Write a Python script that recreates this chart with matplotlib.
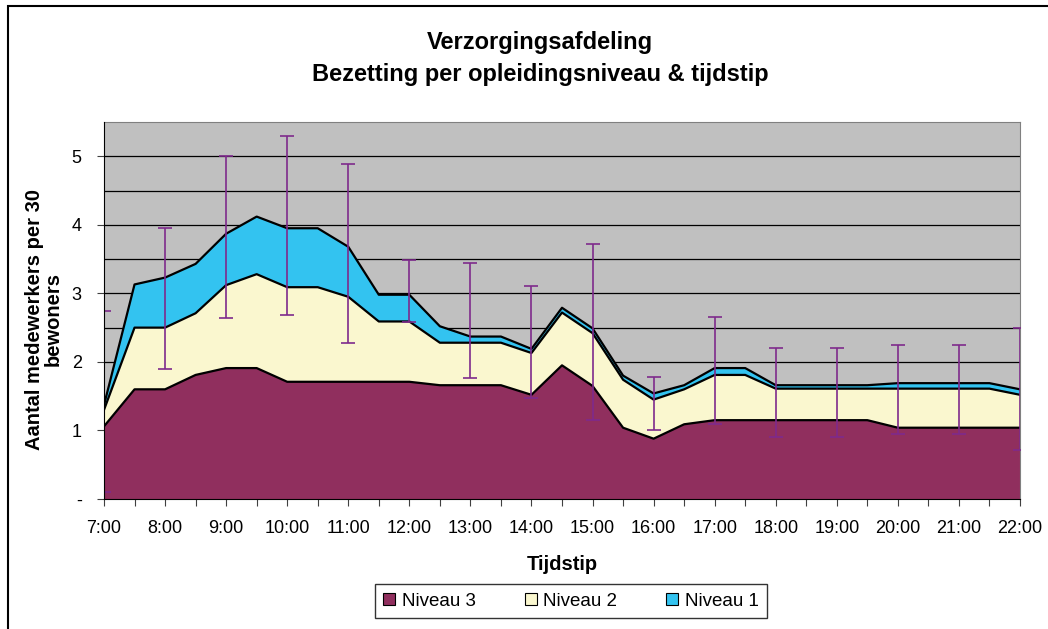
import numpy as np
import matplotlib
matplotlib.use("Agg")
import matplotlib.pyplot as plt
from matplotlib.patches import Rectangle, Patch

plt.rcParams["font.family"] = ["Liberation Sans", "DejaVu Sans"]

# half-hour time points 7:00 .. 22:00
times = ["7:00", "7:30", "8:00", "8:30", "9:00", "9:30", "10:00", "10:30",
         "11:00", "11:30", "12:00", "12:30", "13:00", "13:30", "14:00", "14:30",
         "15:00", "15:30", "16:00", "16:30", "17:00", "17:30", "18:00", "18:30",
         "19:00", "19:30", "20:00", "20:30", "21:00", "21:30", "22:00"]

niveau3 = [1.06, 1.60, 1.60, 1.81, 1.91, 1.91, 1.71, 1.71, 1.71, 1.71, 1.71,
           1.66, 1.66, 1.66, 1.52, 1.95, 1.65, 1.04, 0.88, 1.09, 1.15,
           1.15, 1.15, 1.15, 1.15, 1.15, 1.04, 1.04, 1.04, 1.04, 1.04]
niveau2 = [0.24, 0.90, 0.90, 0.90, 1.21, 1.37, 1.38, 1.38, 1.24, 0.88, 0.88,
           0.62, 0.62, 0.62, 0.61, 0.77, 0.77, 0.70, 0.57, 0.51, 0.66,
           0.66, 0.46, 0.46, 0.46, 0.46, 0.57, 0.57, 0.57, 0.57, 0.48]
niveau1 = [0.07, 0.63, 0.73, 0.72, 0.75, 0.84, 0.86, 0.86, 0.73, 0.39, 0.39,
           0.24, 0.09, 0.09, 0.06, 0.07, 0.07, 0.06, 0.09, 0.06, 0.10,
           0.10, 0.05, 0.05, 0.05, 0.05, 0.08, 0.08, 0.08, 0.08, 0.08]

# error bars on the full hours (mean +/- spread)
hours = ["7:00", "8:00", "9:00", "10:00", "11:00", "12:00", "13:00", "14:00",
         "15:00", "16:00", "17:00", "18:00", "19:00", "20:00", "21:00", "22:00"]
hourMean = [1.425, 2.93, 3.82, 3.985, 3.585, 3.03, 2.605, 2.29,
            2.435, 1.39, 1.875, 1.56, 1.56, 1.60, 1.60, 1.61]
hourSpread = [1.325, 1.03, 1.18, 1.305, 1.305, 0.45, 0.845, 0.82,
              1.285, 0.39, 0.785, 0.65, 0.65, 0.65, 0.65, 0.89]

COLORS = {"Niveau 3": "#902F5E", "Niveau 2": "#FAF7CF", "Niveau 1": "#33C3F0"}
ERR_COLOR = "#7E2A8C"

fig = plt.figure(figsize=(10.48, 6.29), dpi=100)
fig.patches.append(Rectangle((8 / 1048, -0.1), 1.2, 1.1 - 6 / 629,
                             transform=fig.transFigure, fill=False,
                             edgecolor="black", linewidth=1.5))
ax = fig.add_axes([104 / 1048, 1 - 499 / 629, 916 / 1048, 377 / 629])
ax.set_facecolor("#C0C0C0")

x = np.arange(len(times))
ax.stackplot(x, niveau3, niveau2, niveau1,
             colors=[COLORS["Niveau 3"], COLORS["Niveau 2"], COLORS["Niveau 1"]],
             edgecolor="none", zorder=2)
cum = np.cumsum([niveau3, niveau2, niveau1], axis=0)
for row in cum:
    ax.plot(x, row, color="black", linewidth=1.6, zorder=3)

xh = [times.index(h) for h in hours]
ax.errorbar(xh, hourMean, yerr=hourSpread, fmt="none", ecolor=ERR_COLOR,
            elinewidth=1.2, capsize=4.7, capthick=1.2, zorder=4)

ax.set_xlim(0, len(times) - 1)
ax.set_ylim(0, 5.5)
ax.set_yticks([0, 1, 2, 3, 4, 5])
ax.set_yticklabels(["-", "1", "2", "3", "4", "5"], fontsize=13)
ax.set_yticks(np.arange(0.5, 5.5, 0.5), minor=True)
ax.yaxis.grid(True, which="both", color="black", linewidth=0.9, zorder=1)
ax.tick_params(axis="y", which="minor", length=0)
ax.set_axisbelow(True)

ax.set_xticks(x)
ax.set_xticklabels([t if t in hours else "" for t in times], fontsize=13)
ax.tick_params(axis="both", which="major", direction="out", length=5,
               color="#404040")
ax.tick_params(axis="x", which="major", pad=10)
ax.tick_params(axis="y", which="major", pad=11)

for side in ("top", "right"):
    ax.spines[side].set_color("#808080")
for side in ("left", "bottom"):
    ax.spines[side].set_color("black")
    ax.spines[side].set_zorder(5)

ax.set_xlabel("Tijdstip", fontsize=14.5, fontweight="bold", labelpad=13)
fig.text(44 / 1048, 1 - 319 / 629, "Aantal medewerkers per 30\nbewoners",
         rotation=90, ha="center", va="center", multialignment="center",
         fontsize=14.5, fontweight="bold", linespacing=0.95)

fig.text(540 / 1048, 1 - 42 / 629, "Verzorgingsafdeling", ha="center",
         va="center", fontsize=17, fontweight="bold")
fig.text(540 / 1048, 1 - 74 / 629, "Bezetting per opleidingsniveau & tijdstip",
         ha="center", va="center", fontsize=17, fontweight="bold")

handles = [Patch(facecolor=c, edgecolor="black", linewidth=0.8, label=n)
           for n, c in COLORS.items()]
leg = fig.legend(handles=handles, loc="center", ncol=3,
                 bbox_to_anchor=(571 / 1048, 1 - 601 / 629), fontsize=13.5,
                 frameon=True, fancybox=False, edgecolor="black",
                 handlelength=0.65, handleheight=0.65, handletextpad=0.35,
                 columnspacing=2.6, borderpad=0.45)
leg.get_frame().set_linewidth(1.0)

fig.savefig("out.png", dpi=100)
